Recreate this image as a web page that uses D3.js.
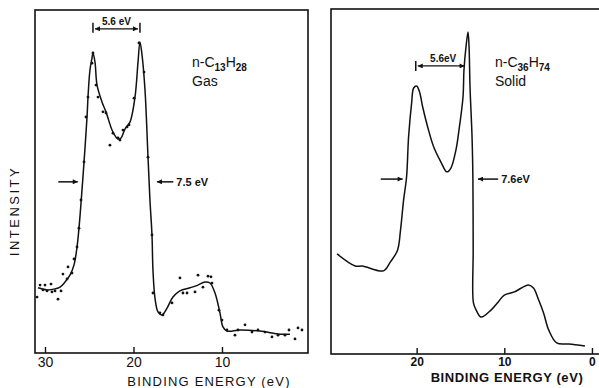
<!DOCTYPE html>
<html>
<head>
<meta charset="utf-8">
<script src="https://cdn.jsdelivr.net/npm/d3@7"></script>
<style>
  body { margin: 0; background: #fff; }
  svg { display: block; font-family: "Liberation Sans", Arial, sans-serif; }
</style>
</head>
<body>
<svg id="chart" width="599" height="388"></svg>
<script>
// gas phase n-C13H28: smooth curve [binding energy, intensity]
const gasCurve = [
  [30.79,19.0],[29.77,18.4],[28.87,18.7],[28.3,19.2],[27.74,20.7],[27.18,22.7],[26.72,25.7],
  [26.38,30.9],[26.16,36.4],[25.93,43.7],[25.59,55.7],[25.25,68.8],[25.14,74.6],[24.92,82.5],
  [24.69,86.0],[24.58,87.5],[24.35,84.8],[24.12,78.1],[23.56,73.2],[23.11,70.3],[22.32,64.4],
  [21.75,62.4],[21.41,62.7],[20.96,65.3],[20.40,67.3],[19.83,74.6],[19.49,84.8],[19.27,90.7],
  [19.04,87.0],[18.70,76.7],[18.36,57.1],[18.14,44.6],[17.91,34.4],[17.80,24.2],[17.57,16.0],
  [17.23,12.0],[16.78,11.1],[16.21,13.1],[15.54,16.3],[14.75,18.1],[13.62,19.0],[12.71,19.8],
  [11.92,20.7],[11.36,20.4],[10.79,17.5],[10.23,11.7],[9.89,7.6],[9.44,6.4],[7.97,6.7],
  [5.71,6.4],[3.45,5.5],[2.32,5.5]
];
// gas phase measured points
const gasDots = [
  [30.90,16.3],[30.56,19.8],[30.0,19.8],[29.32,20.1],[30.23,18.4],[29.77,18.1],[29.21,17.8],
  [28.87,18.1],[28.53,15.7],[28.19,18.1],[27.97,23.0],[27.51,21.6],[27.40,25.1],[26.95,23.3],
  [26.72,27.4],[26.38,30.9],[26.16,36.4],[25.93,44.6],[25.59,55.7],[25.37,68.8],[25.14,74.6],
  [24.69,84.5],[24.58,87.5],[24.24,78.1],[24.01,74.6],[23.45,70.3],[23.11,70.0],[22.32,64.1],
  [21.75,62.7],[21.53,62.1],[21.19,65.0],[20.73,65.9],[20.51,66.5],[22.66,60.6],[19.94,74.3],
  [19.38,90.4],[18.81,81.9],[18.36,57.1],[17.91,34.4],[17.80,17.5],[17.01,11.7],[16.67,11.1],
  [15.65,14.6],[14.75,21.9],[14.41,17.5],[13.95,17.5],[13.05,17.8],[12.71,22.7],[12.15,19.2],
  [11.58,22.4],[11.24,22.2],[11.13,20.4],[10.34,12.5],[10.0,9.6],[9.44,6.7],[8.53,5.2],
  [8.19,6.7],[7.40,8.2],[6.61,6.1],[5.93,6.7],[5.14,6.1],[4.35,4.7],[3.67,5.2],[2.88,5.2],
  [2.43,6.7],[1.75,4.1],[1.41,7.3],[0.96,6.7]
];
// solid n-C36H74
const solidCurve = [
  [29.08,29.0],[27.01,25.5],[26.21,25.5],[23.79,24.1],[22.99,26.7],[22.18,30.1],[21.84,35.9],
  [21.49,44.6],[21.15,51.3],[20.92,62.9],[20.57,72.8],[20.34,77.1],[20.0,77.7],[19.66,75.9],
  [19.31,71.6],[18.74,65.8],[18.05,60.0],[17.24,55.7],[16.55,52.8],[16.09,53.9],[15.52,59.1],
  [15.17,64.9],[14.71,74.5],[14.60,82.3],[14.37,89.0],[14.14,93.3],[14.02,89.0],[13.91,77.4],
  [13.68,62.9],[13.58,50.4],[13.55,30.1],[13.52,14.8],[13.22,12.8],[12.64,10.7],[11.49,12.8],
  [10.69,15.1],[10.0,17.1],[8.85,18.0],[7.24,20.0],[6.67,19.1],[6.09,15.7],[5.52,11.9],
  [4.94,7.0],[4.02,3.2],[2.64,2.9],[0.80,2.3]
];
const gasTicks = [30, 20, 10];
const solidTicks = [20, 10, 0];
// annotations: peak separation and half-height width
const gasSep = [24.58, 19.27], gasHalf = {lo: 26.3, hi: 17.35, from: 28.5, to: 15.5, y: 49.9};
const solidSep = [20.1, 14.3], solidHalf = {lo: 21.6, hi: 13.0, from: 24.1, to: 10.7, y: 50.7};

const svg = d3.select('#chart');
const ink = '#111';

const defs = svg.append('defs');
defs.append('marker')
    .attr('id', 'head')
    .attr('viewBox', '0 0 10 10')
    .attr('refX', 10).attr('refY', 5)
    .attr('markerWidth', 7).attr('markerHeight', 5)
    .attr('markerUnits', 'userSpaceOnUse')
    .attr('orient', 'auto-start-reverse')
  .append('path').attr('d', 'M0,0L10,5L0,10Z').attr('fill', ink);

function panel(o) {
  const x = d3.scaleLinear().domain(o.xdom).range([o.left, o.right]);
  const y = d3.scaleLinear().domain([0, 100]).range([o.bottom, o.top]);
  const g = svg.append('g');

  g.append('rect')
      .attr('x', o.left).attr('y', o.top)
      .attr('width', o.right - o.left).attr('height', o.bottom - o.top)
      .attr('fill', 'none').attr('stroke', ink).attr('stroke-width', 1.6);

  const ax = g.append('g')
      .attr('transform', `translate(0,${o.bottom})`)
      .call(d3.axisBottom(x).tickValues(o.ticks).tickSize(-6).tickPadding(o.bold ? 3 : 4).tickFormat(d3.format('d')));
  ax.select('.domain').remove();
  ax.selectAll('line').attr('stroke', ink).attr('stroke-width', 1.4);
  ax.selectAll('text').attr('fill', ink).attr('font-size', o.bold ? 12 : 14)
      .attr('font-family', '"Liberation Sans", Arial, sans-serif')
      .attr('font-weight', o.bold ? 'bold' : 'normal');

  const line = d3.line().x(d => x(d[0])).y(d => y(d[1])).curve(d3.curveCatmullRom.alpha(0.5));
  g.append('path').datum(o.curve)
      .attr('d', line).attr('fill', 'none').attr('stroke', ink).attr('stroke-width', 1.5);

  if (o.dots) {
    g.append('g').selectAll('circle').data(o.dots).join('circle')
        .attr('cx', d => x(d[0])).attr('cy', d => y(d[1])).attr('r', 1.4).attr('fill', ink);
  }

  // peak separation bracket
  const s = o.sep, sy = y(o.sepY);
  if (o.sepBars) {
    s.forEach(e => g.append('line').attr('x1', x(e)).attr('x2', x(e))
        .attr('y1', sy - 6).attr('y2', sy + 4).attr('stroke', ink).attr('stroke-width', 1.5));
  } else {
    g.append('line').attr('x1', x(s[0])).attr('x2', x(s[0]))
        .attr('y1', sy - 5).attr('y2', sy + 5).attr('stroke', ink).attr('stroke-width', 1.5);
  }
  g.append('line')
      .attr('x1', x(s[0]) + 2).attr('x2', x(s[1]) - 2).attr('y1', sy).attr('y2', sy)
      .attr('stroke', ink).attr('stroke-width', 1.2)
      .attr('marker-start', 'url(#head)').attr('marker-end', 'url(#head)');
  g.append('text')
      .attr('x', (x(s[0]) + x(s[1])) / 2 + o.sepDx).attr('y', sy - 4)
      .attr('text-anchor', 'middle').attr('font-size', 10).attr('font-weight', 'bold').attr('fill', ink)
      .text('5.6 eV'.replace(' ', o.sepSpace));

  // half-height width arrows
  const h = o.half, hy = y(h.y);
  g.append('line').attr('x1', x(h.from)).attr('x2', x(h.lo)).attr('y1', hy).attr('y2', hy)
      .attr('stroke', ink).attr('stroke-width', 1.5).attr('marker-end', 'url(#head)');
  g.append('line').attr('x1', x(h.to)).attr('x2', x(h.hi)).attr('y1', hy).attr('y2', hy)
      .attr('stroke', ink).attr('stroke-width', 1.5).attr('marker-end', 'url(#head)');
  g.append('text').attr('x', x(h.to) + 3).attr('y', hy + 4)
      .attr('font-size', 11).attr('font-weight', 'bold').attr('fill', ink).text(o.halfLabel);

  // compound label
  const lab = g.append('text').attr('x', o.labelX).attr('y', 67)
      .attr('font-size', 14).attr('fill', ink);
  lab.append('tspan').text('n-C');
  lab.append('tspan').attr('dy', 4).attr('font-size', 10).attr('font-weight', 'bold').text(o.sub1);
  lab.append('tspan').attr('dy', -4).text('H');
  lab.append('tspan').attr('dy', 4).attr('font-size', 10).attr('font-weight', 'bold').text(o.sub2);
  g.append('text').attr('x', o.labelX).attr('y', 86)
      .attr('font-size', 14).attr('fill', ink).text(o.phase);

  g.append('text').attr('x', o.titleX).attr('y', o.titleY)
      .attr('text-anchor', 'middle').attr('font-size', 13).attr('fill', ink)
      .attr('font-weight', o.bold ? 'bold' : 'normal')
      .attr('letter-spacing', o.bold ? 0.6 : 1.2)
      .text(o.title);
}

panel({
  left: 35, right: 308, top: 10, bottom: 353, xdom: [31.13, 0.28], ticks: gasTicks,
  curve: gasCurve, dots: gasDots, sep: gasSep, sepY: 94.5, sepBars: true, sepDx: 0, sepSpace: ' ',
  half: gasHalf, halfLabel: '7.5 eV', labelX: 192, sub1: '13', sub2: '28', phase: 'Gas',
  title: 'BINDING ENERGY (eV)', titleX: 209, titleY: 386, bold: false
});

panel({
  left: 331, right: 603, top: 9, bottom: 354, xdom: [29.77, -1.26], ticks: solidTicks,
  curve: solidCurve, dots: null, sep: solidSep, sepY: 83.5, sepBars: false, sepDx: 2, sepSpace: '',
  half: solidHalf, halfLabel: '7.6eV', labelX: 495, sub1: '36', sub2: '74', phase: 'Solid',
  title: 'BINDING  ENERGY (eV)', titleX: 507, titleY: 382, bold: true
});

svg.append('text')
    .attr('transform', 'translate(19,211) rotate(-90)')
    .attr('text-anchor', 'middle').attr('font-size', 13).attr('letter-spacing', 2.5)
    .attr('fill', ink).text('INTENSITY');
</script>
</body>
</html>
